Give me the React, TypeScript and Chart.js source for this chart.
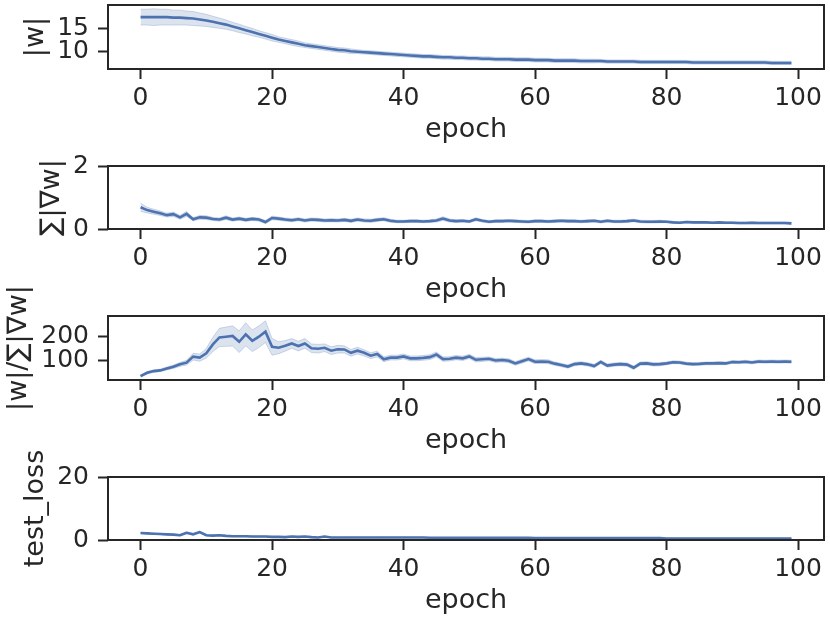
import React, { useEffect, useRef } from "react";
import { Chart, registerables } from "chart.js";

Chart.register(...registerables);

// ---------- data ----------
const epochs: number[] = Array.from({ length: 100 }, (_, i) => i);
const xTicks = [0, 20, 40, 60, 80, 100];

const wNorm = [
  17.4, 17.4, 17.4, 17.4, 17.4, 17.3, 17.3, 17.2, 17.1, 16.9,
  16.7, 16.4, 16.1, 15.8, 15.4, 15.0, 14.6, 14.2, 13.8, 13.4,
  13.0, 12.6, 12.3, 12.0, 11.7, 11.4, 11.2, 11.0, 10.8, 10.6,
  10.4, 10.3, 10.1, 10.0, 9.9, 9.8, 9.7, 9.6, 9.5, 9.4,
  9.3, 9.2, 9.1, 9.0, 9.0, 8.9, 8.8, 8.8, 8.7, 8.7,
  8.6, 8.6, 8.5, 8.5, 8.4, 8.4, 8.4, 8.3, 8.3, 8.3,
  8.2, 8.2, 8.2, 8.1, 8.1, 8.1, 8.1, 8.0, 8.0, 8.0,
  8.0, 7.9, 7.9, 7.9, 7.9, 7.9, 7.8, 7.8, 7.8, 7.8,
  7.8, 7.8, 7.8, 7.8, 7.7, 7.7, 7.7, 7.7, 7.7, 7.7,
  7.7, 7.7, 7.7, 7.7, 7.7, 7.7, 7.6, 7.6, 7.6, 7.6,
];
const wNormCi = [
  1.7, 1.7, 1.8, 1.7, 1.7, 1.6, 1.6, 1.5, 1.5, 1.4,
  1.3, 1.2, 1.1, 1.0, 0.9, 0.9, 0.8, 0.8, 0.7, 0.7,
  0.7, 0.6, 0.6, 0.6, 0.6, 0.5, 0.5, 0.5, 0.5, 0.5,
  0.5, 0.5, 0.5, 0.4, 0.4, 0.4, 0.4, 0.4, 0.4, 0.4,
  0.4, 0.4, 0.4, 0.4, 0.4, 0.4, 0.4, 0.4, 0.4, 0.4,
  0.4, 0.4, 0.4, 0.4, 0.4, 0.4, 0.4, 0.4, 0.4, 0.4,
  0.4, 0.4, 0.4, 0.4, 0.4, 0.4, 0.4, 0.4, 0.4, 0.4,
  0.35, 0.35, 0.35, 0.35, 0.35, 0.35, 0.35, 0.35, 0.35, 0.35,
  0.35, 0.35, 0.35, 0.35, 0.35, 0.35, 0.35, 0.35, 0.35, 0.35,
  0.35, 0.35, 0.35, 0.35, 0.35, 0.35, 0.35, 0.35, 0.35, 0.35,
];
const wNormTicks = [10, 15];

const gradSum = [
  0.69, 0.60, 0.55, 0.50, 0.44, 0.47, 0.37, 0.48, 0.31, 0.37,
  0.36, 0.32, 0.30, 0.36, 0.30, 0.33, 0.29, 0.32, 0.30, 0.22,
  0.35, 0.33, 0.30, 0.28, 0.31, 0.27, 0.30, 0.29, 0.27, 0.28,
  0.27, 0.29, 0.26, 0.30, 0.27, 0.26, 0.29, 0.31, 0.26, 0.24,
  0.24, 0.25, 0.25, 0.24, 0.25, 0.27, 0.33, 0.27, 0.25, 0.26,
  0.24, 0.31, 0.26, 0.23, 0.25, 0.25, 0.26, 0.25, 0.24, 0.23,
  0.25, 0.25, 0.24, 0.25, 0.26, 0.25, 0.25, 0.24, 0.25, 0.26,
  0.23, 0.26, 0.24, 0.24, 0.25, 0.27, 0.24, 0.23, 0.23, 0.24,
  0.23, 0.21, 0.20, 0.22, 0.21, 0.21, 0.21, 0.20, 0.21, 0.20,
  0.20, 0.19, 0.19, 0.20, 0.19, 0.19, 0.19, 0.19, 0.19, 0.18,
];
const gradSumCi = [
  0.13, 0.09, 0.08, 0.07, 0.06, 0.07, 0.06, 0.08, 0.05, 0.06,
  0.06, 0.05, 0.05, 0.06, 0.05, 0.05, 0.05, 0.05, 0.05, 0.05,
  0.06, 0.05, 0.05, 0.05, 0.05, 0.05, 0.05, 0.05, 0.05, 0.05,
  0.05, 0.05, 0.05, 0.05, 0.05, 0.05, 0.05, 0.05, 0.05, 0.04,
  0.04, 0.04, 0.04, 0.04, 0.04, 0.05, 0.06, 0.05, 0.04, 0.04,
  0.04, 0.05, 0.04, 0.04, 0.04, 0.04, 0.04, 0.04, 0.04, 0.04,
  0.04, 0.04, 0.04, 0.04, 0.04, 0.04, 0.04, 0.04, 0.04, 0.04,
  0.04, 0.04, 0.04, 0.04, 0.04, 0.04, 0.04, 0.04, 0.04, 0.04,
  0.03, 0.03, 0.03, 0.03, 0.03, 0.03, 0.03, 0.03, 0.03, 0.03,
  0.03, 0.03, 0.03, 0.03, 0.03, 0.03, 0.03, 0.03, 0.03, 0.03,
];
const gradSumTicks = [0, 2];

const ratio = [
  36, 50, 57, 60, 68, 75, 85, 92, 117, 113,
  131, 168, 197, 200, 203, 179, 210, 183, 200, 221,
  158, 154, 162, 172, 161, 172, 152, 150, 154, 142,
  148, 147, 133, 142, 133, 121, 128, 106, 113, 113,
  118, 110, 110, 112, 115, 126, 107, 108, 113, 110,
  118, 104, 106, 108, 101, 103, 100, 89, 98, 107,
  96, 97, 96, 88, 82, 76, 86, 89, 85, 78,
  95, 80, 84, 86, 84, 71, 88, 89, 85, 86,
  89, 94, 93, 88, 86, 87, 89, 89, 90, 89,
  95, 94, 96, 93, 97, 96, 97, 96, 97, 96,
];
const ratioCi = [
  4, 5, 5, 5, 6, 7, 8, 10, 14, 15,
  20, 30, 38, 40, 42, 45, 48, 45, 45, 45,
  35, 25, 22, 20, 20, 20, 18, 18, 16, 16,
  16, 15, 14, 14, 13, 12, 12, 10, 10, 10,
  10, 10, 10, 10, 10, 10, 9, 9, 9, 9,
  9, 9, 9, 8, 8, 8, 8, 8, 8, 8,
  8, 8, 8, 7, 7, 7, 7, 7, 7, 7,
  7, 7, 7, 7, 7, 7, 7, 7, 7, 7,
  6, 6, 6, 6, 6, 6, 6, 6, 6, 6,
  6, 6, 6, 6, 6, 6, 6, 6, 6, 6,
];
const ratioTicks = [100, 200];

const testLoss = [
  2.2, 2.1, 2.0, 1.9, 1.8, 1.7, 1.5, 2.3, 1.8, 2.5,
  1.5, 1.4, 1.5, 1.3, 1.2, 1.2, 1.2, 1.1, 1.1, 1.1,
  1.0, 1.0, 0.9, 1.1, 1.0, 1.1, 0.9, 0.8, 1.1, 0.8,
  0.8, 0.8, 0.8, 0.8, 0.8, 0.8, 0.8, 0.8, 0.8, 0.8,
  0.8, 0.8, 0.8, 0.8, 0.7, 0.7, 0.7, 0.7, 0.7, 0.7,
  0.7, 0.7, 0.7, 0.7, 0.7, 0.7, 0.7, 0.7, 0.7, 0.7,
  0.6, 0.6, 0.6, 0.6, 0.6, 0.6, 0.6, 0.6, 0.6, 0.6,
  0.6, 0.6, 0.6, 0.6, 0.6, 0.6, 0.6, 0.6, 0.6, 0.6,
  0.5, 0.5, 0.5, 0.5, 0.5, 0.5, 0.5, 0.5, 0.5, 0.5,
  0.5, 0.5, 0.5, 0.5, 0.5, 0.5, 0.5, 0.5, 0.5, 0.5,
];
const testLossCi = [
  0.2, 0.2, 0.2, 0.2, 0.2, 0.2, 0.2, 0.3, 0.2, 0.3,
  0.2, 0.15, 0.15, 0.15, 0.15, 0.15, 0.15, 0.15, 0.15, 0.15,
  0.1, 0.1, 0.1, 0.1, 0.1, 0.1, 0.1, 0.1, 0.1, 0.1,
  0.1, 0.1, 0.1, 0.1, 0.1, 0.1, 0.1, 0.1, 0.1, 0.1,
  0.1, 0.1, 0.1, 0.1, 0.1, 0.1, 0.1, 0.1, 0.1, 0.1,
  0.1, 0.1, 0.1, 0.1, 0.1, 0.1, 0.1, 0.1, 0.1, 0.1,
  0.1, 0.1, 0.1, 0.1, 0.1, 0.1, 0.1, 0.1, 0.1, 0.1,
  0.1, 0.1, 0.1, 0.1, 0.1, 0.1, 0.1, 0.1, 0.1, 0.1,
  0.1, 0.1, 0.1, 0.1, 0.1, 0.1, 0.1, 0.1, 0.1, 0.1,
  0.1, 0.1, 0.1, 0.1, 0.1, 0.1, 0.1, 0.1, 0.1, 0.1,
];
const testLossTicks = [0, 20];

// ---------- styling ----------
const FONT = "'DejaVu Sans', sans-serif";
const TEXT = "#262626";
const EDGE = "#262626";
const BLUE = "#4c72b0";
const BAND = "rgba(76,114,176,0.2)";
const BAND_EDGE = "rgba(76,114,176,0.25)";
const PAD_TOP = 40;
const X_AXIS_H = 77;
const Y_AXIS_W = 108;

type PanelCfg = {
  mean: number[];
  ci: number[];
  yTicks: number[];
  yMin: number;
  yMax: number;
  title: string;
  titlePad: number;
  frameTop: number;
  frameH: number;
};

const panels: PanelCfg[] = [
  { mean: wNorm, ci: wNormCi, yTicks: wNormTicks, yMin: 6.3, yMax: 20, title: "|w|", titlePad: 20, frameTop: 5, frameH: 64 },
  { mean: gradSum, ci: gradSumCi, yTicks: gradSumTicks, yMin: 0, yMax: 2, title: "∑|∇w|", titlePad: 36, frameTop: 166, frameH: 63 },
  { mean: ratio, ci: ratioCi, yTicks: ratioTicks, yMin: 20, yMax: 286, title: "|w|/∑|∇w|", titlePad: 3, frameTop: 316, frameH: 64 },
  { mean: testLoss, ci: testLossCi, yTicks: testLossTicks, yMin: 0, yMax: 20, title: "test_loss", titlePad: 20, frameTop: 477, frameH: 63 },
];

const framePlugin = {
  id: "frame",
  afterDraw(chart: any) {
    const { ctx, chartArea: a } = chart;
    ctx.save();
    ctx.strokeStyle = EDGE;
    ctx.lineWidth = 2;
    ctx.strokeRect(a.left, a.top, a.right - a.left, a.bottom - a.top);
    ctx.restore();
  },
};

function Panel({ cfg }: { cfg: PanelCfg }) {
  const ref = useRef<HTMLCanvasElement>(null);
  useEffect(() => {
    if (!ref.current) return;
    const meanPts = cfg.mean.map((v, i) => ({ x: epochs[i], y: v }));
    const upPts = cfg.mean.map((v, i) => ({ x: epochs[i], y: v + cfg.ci[i] }));
    const loPts = cfg.mean.map((v, i) => ({ x: epochs[i], y: v - cfg.ci[i] }));
    const chart = new Chart(ref.current, {
      type: "line",
      data: {
        datasets: [
          { data: meanPts, borderColor: BLUE, borderWidth: 2.6, pointRadius: 0, fill: false, tension: 0 },
          { data: upPts, borderColor: BAND_EDGE, borderWidth: 1, backgroundColor: BAND, pointRadius: 0, fill: "+1", tension: 0 },
          { data: loPts, borderColor: BAND_EDGE, borderWidth: 1, pointRadius: 0, fill: false, tension: 0 },
        ],
      },
      options: {
        animation: false,
        responsive: true,
        maintainAspectRatio: false,
        layout: { padding: { top: PAD_TOP, right: 6, left: 0, bottom: 0 } },
        plugins: { legend: { display: false }, tooltip: { enabled: false } },
        scales: {
          x: {
            type: "linear",
            min: -4.95,
            max: 103.95,
            afterBuildTicks: (s: any) => {
              s.ticks = xTicks.map((v) => ({ value: v }));
            },
            afterFit: (s: any) => {
              s.height = X_AXIS_H;
            },
            grid: { display: true, drawOnChartArea: false, drawTicks: true, tickLength: 10, tickWidth: 2, tickColor: EDGE },
            border: { display: false },
            ticks: {
              font: { family: FONT, size: 25 },
              color: TEXT,
              padding: 4,
              maxRotation: 0,
              autoSkip: false,
              callback: (v: any) => String(v),
            },
            title: { display: true, text: "epoch", font: { family: FONT, size: 27 }, color: TEXT, padding: { top: 0, bottom: 0 } },
          },
          y: {
            type: "linear",
            min: cfg.yMin,
            max: cfg.yMax,
            afterBuildTicks: (s: any) => {
              s.ticks = cfg.yTicks.map((v) => ({ value: v }));
            },
            afterFit: (s: any) => {
              s.width = Y_AXIS_W;
            },
            grid: { display: true, drawOnChartArea: false, drawTicks: true, tickLength: 10, tickWidth: 2, tickColor: EDGE },
            border: { display: false },
            ticks: {
              font: { family: FONT, size: 25 },
              color: TEXT,
              padding: 9,
              autoSkip: false,
              callback: (v: any) => String(v),
            },
            title: { display: true, text: cfg.title, font: { family: FONT, size: 27 }, color: TEXT, padding: { top: cfg.titlePad, bottom: 0 } },
          },
        },
      },
      plugins: [framePlugin],
    });
    return () => chart.destroy();
  }, [cfg]);

  const top = cfg.frameTop - PAD_TOP;
  const height = PAD_TOP + cfg.frameH + X_AXIS_H;
  return (
    <div style={{ position: "absolute", left: 0, top, width: 830, height }}>
      <canvas ref={ref} />
    </div>
  );
}

export default function App() {
  useEffect(() => {
    document.body.style.margin = "0";
  }, []);
  return (
    <div style={{ position: "fixed", left: 0, top: 0, width: 830, height: 623, background: "#fff", overflow: "hidden" }}>
      {panels.map((p, i) => (
        <Panel key={i} cfg={p} />
      ))}
    </div>
  );
}
